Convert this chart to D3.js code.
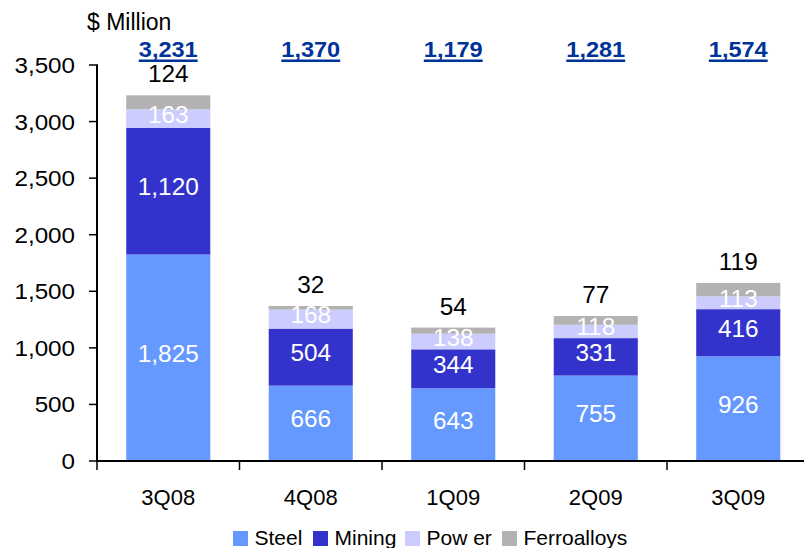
<!DOCTYPE html>
<html><head><meta charset="utf-8">
<script src="https://cdn.jsdelivr.net/npm/d3@7"></script>
<style>body{margin:0;background:#fff}text{font-family:"Liberation Sans",Arial,sans-serif}</style>
</head><body><svg id="c" width="804" height="548"></svg>
<script>
const categories = ["3Q08","4Q08","1Q09","2Q09","3Q09"];
const seriesNames = ["Steel","Mining","Power","Ferroalloys"];
const legendLabels = ["Steel","Mining","Pow er","Ferroalloys"];
const steel = [1825,666,643,755,926];
const mining = [1120,504,344,331,416];
const power = [163,168,138,118,113];
const ferro = [124,32,54,77,119];
const totals = [3231,1370,1179,1281,1574];
const yTicks = [0,500,1000,1500,2000,2500,3000,3500];
const colors = ["#6699FF","#3333CC","#CCCCFF","#B2B2B2"];
const labelColors = ["#fff","#fff","#fff","#000"];

const svg = d3.select("#c");
const fmt = d3.format(",");
const x = d3.scaleBand().domain(categories).range([97,809.5]).paddingInner(0.41).paddingOuter(0.205);
const y = d3.scaleLinear().domain([0,3500]).range([461,65]);

function stext(px, py, sx, txt, size, anchor, fill, weight){
  return svg.append("text").attr("transform",`translate(${px},${py}) scale(${sx},1)`)
    .attr("text-anchor",anchor).attr("font-size",size).attr("fill",fill)
    .attr("font-weight",weight||"normal").text(txt);
}

const rows = categories.map((c,i)=>({cat:c,Steel:steel[i],Mining:mining[i],Power:power[i],Ferroalloys:ferro[i]}));
const stack = d3.stack().keys(seriesNames)(rows);

stack.forEach((s,si)=>{
  svg.append("g").selectAll("rect").data(s).enter().append("rect")
    .attr("x",d=>x(d.data.cat)).attr("width",x.bandwidth())
    .attr("y",d=>y(d[1])).attr("height",d=>y(d[0])-y(d[1]))
    .attr("fill",colors[si]);
});
stack.forEach((s,si)=>{
  s.forEach(d=>{
    const cx = x(d.data.cat)+x.bandwidth()/2;
    const py = si===3 ? y(d[1])-13 : (y(d[0])+y(d[1]))/2+4;
    stext(cx, py, 1.06, fmt(d[1]-d[0]), 23, "middle", labelColors[si]);
  });
});
categories.forEach((c,i)=>{
  const cx = x(c)+x.bandwidth()/2;
  const t = stext(cx, 57, 1.07, fmt(totals[i]), 22, "middle", "#003399", "bold");
  const w = t.node().getComputedTextLength()*1.07;
  svg.append("rect").attr("x",cx-w/2).attr("y",59.5).attr("width",w).attr("height",2.5).attr("fill","#003399");
});
// y axis
svg.append("line").attr("x1",97).attr("x2",97).attr("y1",y(3500)).attr("y2",y(0)).attr("stroke","#000").attr("stroke-width",2);
yTicks.forEach(t=>{
  svg.append("line").attr("x1",89).attr("x2",98).attr("y1",y(t)).attr("y2",y(t)).attr("stroke","#000").attr("stroke-width",1.5);
  stext(75, y(t)+8, 1.1, fmt(t), 22, "end", "#000");
});
// x axis
svg.append("line").attr("x1",96).attr("x2",804).attr("y1",y(0)).attr("y2",y(0)).attr("stroke","#000").attr("stroke-width",2);
categories.forEach((c,i)=>{
  const xb = x(c) - x.step()*x.paddingInner()/2;
  svg.append("line").attr("x1",xb).attr("x2",xb).attr("y1",y(0)).attr("y2",y(0)+9).attr("stroke","#000").attr("stroke-width",1.5);
  svg.append("text").attr("x",x(c)+x.bandwidth()/2).attr("y",505).attr("text-anchor","middle").attr("font-size",22).attr("fill","#000").text(c);
});
svg.append("text").attr("x",87).attr("y",30).attr("font-size",23).attr("fill","#000").text("$ Million");
// legend
const legX = [233,313,405,502];
legendLabels.forEach((l,i)=>{
  svg.append("rect").attr("x",legX[i]).attr("y",531).attr("width",15).attr("height",15).attr("fill",colors[i]);
  svg.append("text").attr("x",legX[i]+21.5).attr("y",545).attr("font-size",21).attr("fill","#000").text(l);
});
</script></body></html>
